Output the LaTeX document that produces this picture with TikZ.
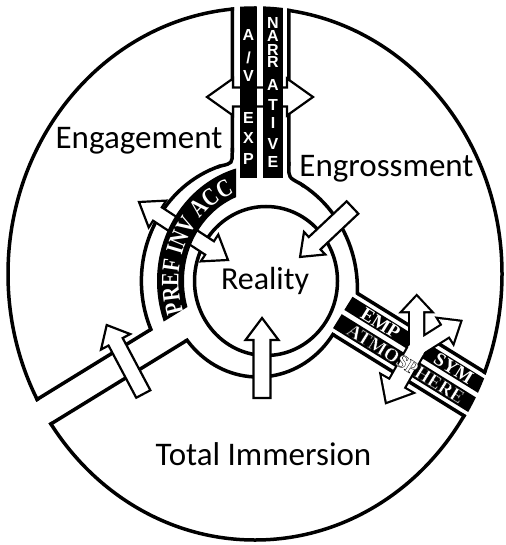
\documentclass[tikz,border=0pt]{standalone}
\usepackage{fontspec}
\setmainfont{Carlito}
\newfontfamily\barfont{Liberation Sans Bold}
\newfontfamily\bandfont[FakeStretch=0.8]{Liberation Serif Bold}
\newfontfamily\lrfont{Liberation Serif Bold}
\newfontfamily\lrfontol[FakeBold=1.6]{Liberation Serif Bold}
\usetikzlibrary{calc,decorations.text}

\tikzset{
 arrowsty/.style={draw=black, fill=white, line width=2.2pt, line join=miter},
 armout/.style={draw=black, fill=white, line width=4.4pt, line join=miter},
 armin/.style={fill=white, draw=none},
 lab/.style={font=\fontsize{33}{33}\selectfont, inner sep=0pt, anchor=base},
 barlet/.style={font=\barfont\fontsize{16}{16}\selectfont, text=white, inner sep=0pt},
 lrtext/.style={font=\lrfont\fontsize{19}{19}\selectfont, inner sep=0pt, text=white, rotate=-31.8},
}

% #1 style, #2 tail x, #3 tail y, #4 tip x, #5 tip y, #6 shaft half, #7 head length, #8 head half
\newcommand\blockarrow[8][arrowsty]{%
 \pgfmathsetmacro\baAng{atan2(-((#5)-(#3)),(#4)-(#2))}%
 \pgfmathsetmacro\baLen{veclen((#4)-(#2),(#5)-(#3))}%
 \pgfmathsetmacro\baB{\baLen-(#7)}%
 \begin{scope}[shift={(#2,#3)},rotate=\baAng]
 \path[#1] (0,-#6) -- (\baB,-#6) -- (\baB,-#8) -- (\baLen,0) -- (\baB,#8) -- (\baB,#6) -- (0,#6) -- cycle;
 \end{scope}}
\newcommand\dblarrow[8][arrowsty]{%
 \pgfmathsetmacro\baAng{atan2(-((#5)-(#3)),(#4)-(#2))}%
 \pgfmathsetmacro\baLen{veclen((#4)-(#2),(#5)-(#3))}%
 \pgfmathsetmacro\baB{\baLen-(#7)}%
 \begin{scope}[shift={(#2,#3)},rotate=\baAng]
 \path[#1] (0,0) -- (#7,-#8) -- (#7,-#6) -- (\baB,-#6) -- (\baB,-#8) -- (\baLen,0) -- (\baB,#8) -- (\baB,#6) -- (#7,#6) -- (#7,#8) -- cycle;
 \end{scope}}
% #1 wedge path, #2 inner ellipse
\newcommand\drawsector[2]{%
 \begin{scope}
 \clip #1;
 \clip (255,274) ellipse [x radius=248.75, y radius=267.75];
 \draw[line width=7pt] #1;
 \draw[line width=7pt] (255,274) ellipse [x radius=248.75, y radius=267.75];
 \fill[white] #2;
 \end{scope}
 \begin{scope}
 \clip #2;
 \draw[white, line width=3pt] #1;
 \end{scope}
 \begin{scope}
 \clip #1;
 \draw[line width=3.5pt] #2;
 \end{scope}}

\begin{document}
\begin{tikzpicture}[x=1pt,y=-1pt]
\useasboundingbox (0,0) rectangle (505,545);
\fill[white] (0,0) rectangle (505,545);

% sectors
\drawsector{(234,280.3) -- (234,-20) -- (-20,-20) -- (-20,436.6) -- cycle}{(254,281) ellipse [x radius=112.6, y radius=120.5]}
\drawsector{(287,251.7) -- (287,-20) -- (525,-20) -- (525,399.3) -- cycle}{(244,289) ellipse [x radius=113.4, y radius=121.3]}
\drawsector{(264.9,290.3) -- (-20,465.5) -- (-20,570) -- (525,570) -- (525,451.6) -- cycle}{(258,280) ellipse [x radius=90.5, y radius=97]}

% fillets at the top channel
\fill[white] (230.3,152) -- (236,152) -- (236,170) -- (220,170) -- (220,164.5) -- cycle;
\draw[line width=3.5pt] (232.25,148) -- (232.25,152) .. controls (232.25,163.3) .. (221,165.9) -- (217,167.1);
\fill[white] (290.9,166) -- (285,166) -- (285,187) -- (301,187) -- (301,182.5) -- cycle;
\draw[line width=3.5pt] (288.75,162) -- (288.75,166) .. controls (288.75,177.5) .. (300,183.5) -- (304,186.3);

% reality circle
\draw[line width=3.5pt] (266,281) ellipse [x radius=71.5, y radius=74.5];

% arrows
\dblarrow{207}{97}{313}{97}{9.5}{26}{18.5}
\dblarrow{139}{202}{228}{260}{8}{22}{16}
\blockarrow{352.5}{207.5}{300}{257}{8.5}{20}{15.5}
\blockarrow{262}{398}{262}{318}{8.5}{22}{16.5}
\blockarrow{143.3}{394}{106.7}{325}{8}{19}{16.5}

% band
\begin{scope}
 \clip (236,277.1) -- (236,-10) -- (-20,-10) -- (-20,434.6) -- cycle;
 \fill[even odd rule] (266,281) ellipse [x radius=109, y radius=117] (266,281) ellipse [x radius=82, y radius=90];
\end{scope}
\path[decorate, decoration={text along path, text={|\bandfont\fontsize{25}{25}\selectfont|PREF INV ACC}, text align=center, text color=white}] ([shift={(150:87.5 and 94.5)}]266,281) arc[start angle=150, end angle=260, x radius=87.5, y radius=94.5];

% top bars
\begin{scope}
 \clip (255,274) ellipse [x radius=248.75, y radius=267.75];
 \fill (240,-10) rectangle (257,178);
 \fill (263,-10) rectangle (283,178);
\end{scope}
\node[barlet] (av1) at (248.5,34.5) {A};
\node[barlet] (av2) at (248.5,57.5) {/};
\node[barlet] (av3) at (248.5,76) {V};
\node[barlet] (ex1) at (248.5,118) {E};
\node[barlet] (ex2) at (248.5,138) {X};
\node[barlet] (ex3) at (248.5,159) {P};
\foreach \ch/\yy [count=\i] in {N/23,A/36,R/49.5,R/62,A/85,T/105,I/123,V/144,E/162}
 \node[barlet] (nar\i) at (273,\yy) {\ch};

% lower right bars
\coordinate (P0) at (352,290);
\coordinate (dd) at (0.848,0.526);
\coordinate (nn) at (-0.526,0.848);
\begin{scope}
 \clip (255,274) ellipse [x radius=248.75, y radius=267.75];
 \fill ($(P0)+4*(dd)+5.5*(nn)$) -- ($(P0)+260*(dd)+5.5*(nn)$) -- ($(P0)+260*(dd)+21*(nn)$) -- ($(P0)+4*(dd)+21*(nn)$) -- cycle;
 \fill ($(P0)+4*(dd)+26*(nn)$) -- ($(P0)+260*(dd)+26*(nn)$) -- ($(P0)+260*(dd)+42.5*(nn)$) -- ($(P0)+4*(dd)+42.5*(nn)$) -- cycle;
\end{scope}

% Y arrow
\blockarrow[armout]{419.7}{343.8}{386.7}{401.7}{8}{20}{17}
\blockarrow[armout]{416.7}{355}{416.7}{296.7}{6.5}{14.5}{13.5}
\blockarrow[armout]{411.6}{352.2}{460}{321.7}{6.5}{16.5}{13.5}
\blockarrow[armin]{419.7}{343.8}{386.7}{401.7}{8}{20}{17}
\blockarrow[armin]{416.7}{355}{416.7}{296.7}{6.5}{14.5}{13.5}
\blockarrow[armin]{411.6}{352.2}{460}{321.7}{6.5}{16.5}{13.5}

% lower right texts
\node[lrtext] (emp) at ($(P0)+42*(dd)+13.25*(nn)$) {EMP};
\node[lrtext] (sym) at ($(P0)+128*(dd)+13.25*(nn)$) {SYM};
\node[lrtext] (atm) at ($(P0)+84.5*(dd)+34.25*(nn)$) {\lrfontol\fontsize{19}{19}\selectfont\color{white}\special{pdf:literal direct 0 G}ATMOSPHERE};

% labels
\node[lab] (engagement) at (139,149) {Engagement};
\node[lab] (engrossment) at (386.5,177) {Engrossment};
\node[lab] (total) at (263.5,465) {Total Immersion};
\node[lab, font=\fontsize{32}{32}\selectfont] (reality) at (265,289) {Reality};
\end{tikzpicture}
\end{document}
